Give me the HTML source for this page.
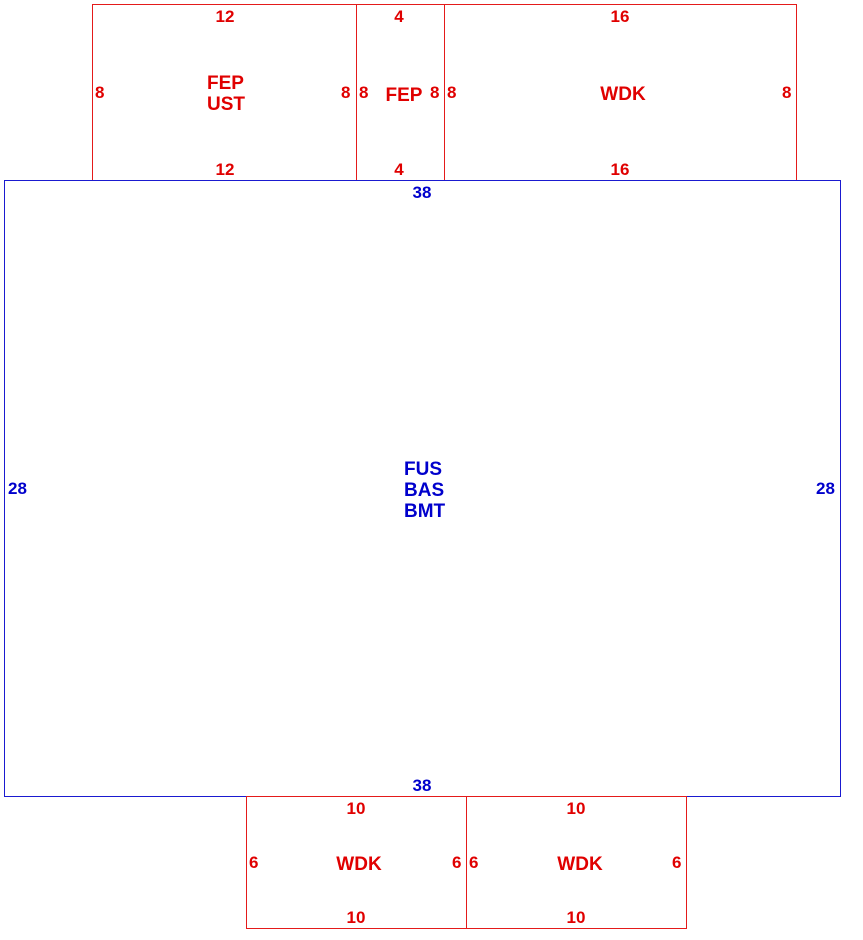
<!DOCTYPE html>
<html><head><style>
body{margin:0;width:863px;height:940px;background:#fff;position:relative;overflow:hidden;font-family:"Liberation Sans",Arial,sans-serif;font-weight:bold;}
.b{position:absolute;box-sizing:border-box;}
.r{border:1px solid #e41a1a;}
.u{border:1px solid #1a1ad0;}
.t{position:absolute;line-height:20px;height:20px;font-size:17px;white-space:nowrap;}
.c{transform:translateX(-50%);}
.R{color:#e00000}.U{color:#0000cc}
.L{font-size:19px;line-height:21px;height:auto}
</style></head><body>
<div class="b r" style="left:92px;top:4px;width:265px;height:177px"></div>
<div class="b r" style="left:356px;top:4px;width:89px;height:177px"></div>
<div class="b r" style="left:444px;top:4px;width:353px;height:177px"></div>
<div class="b u" style="left:4px;top:180px;width:837px;height:617px"></div>
<div class="b r" style="left:246px;top:796px;width:221px;height:133px"></div>
<div class="b r" style="left:466px;top:796px;width:221px;height:133px"></div>

<div class="t R c" style="left:225px;top:7px">12</div>
<div class="t R c" style="left:225px;top:160px">12</div>
<div class="t R" style="left:95px;top:83px">8</div>
<div class="t R" style="left:341px;top:83px">8</div>
<div class="t R L" style="left:207px;top:73px">FEP<br>UST</div>

<div class="t R c" style="left:399px;top:7px">4</div>
<div class="t R c" style="left:399px;top:160px">4</div>
<div class="t R" style="left:359px;top:83px">8</div>
<div class="t R" style="left:430px;top:83px">8</div>
<div class="t R L c" style="left:404px;top:85px">FEP</div>

<div class="t R c" style="left:620px;top:7px">16</div>
<div class="t R c" style="left:620px;top:160px">16</div>
<div class="t R" style="left:447px;top:83px">8</div>
<div class="t R" style="left:782px;top:83px">8</div>
<div class="t R L c" style="left:623px;top:84px">WDK</div>

<div class="t U c" style="left:422px;top:183px">38</div>
<div class="t U c" style="left:422px;top:776px">38</div>
<div class="t U" style="left:8px;top:479px">28</div>
<div class="t U" style="left:816px;top:479px">28</div>
<div class="t U L" style="left:404px;top:459px">FUS<br>BAS<br>BMT</div>

<div class="t R c" style="left:356px;top:799px">10</div>
<div class="t R c" style="left:356px;top:908px">10</div>
<div class="t R" style="left:249px;top:853px">6</div>
<div class="t R" style="left:452px;top:853px">6</div>
<div class="t R L c" style="left:359px;top:854px">WDK</div>

<div class="t R c" style="left:576px;top:799px">10</div>
<div class="t R c" style="left:576px;top:908px">10</div>
<div class="t R" style="left:469px;top:853px">6</div>
<div class="t R" style="left:672px;top:853px">6</div>
<div class="t R L c" style="left:580px;top:854px">WDK</div>
</body></html>
